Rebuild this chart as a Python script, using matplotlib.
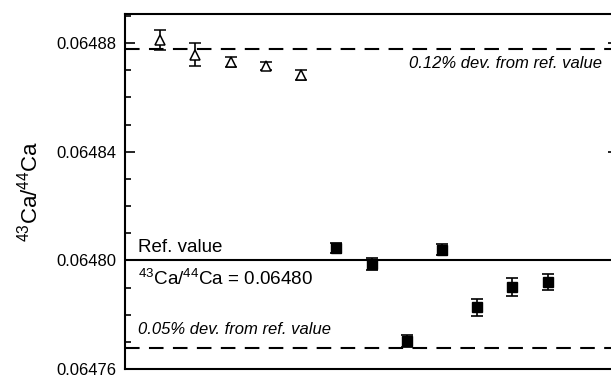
import numpy as np
import matplotlib.pyplot as plt

plt.rcParams['font.family'] = ['Liberation Sans', 'DejaVu Sans']
plt.rcParams['mathtext.fontset'] = 'custom'
plt.rcParams['mathtext.rm'] = 'Liberation Sans'
plt.rcParams['mathtext.it'] = 'Liberation Sans:italic'

# data
run_open = [1, 2, 3, 4, 5]
ratio_open = [0.0648813, 0.0648758, 0.0648731, 0.0648715, 0.0648684]
err_open = [0.0000037, 0.0000044, 0.0000018, 0.0000015, 0.0000018]

run_filled = [6, 7, 8, 9, 10, 11, 12]
ratio_filled = [0.0648047, 0.0647987, 0.0647704, 0.0648039, 0.0647827, 0.0647903, 0.0647920]
err_filled = [0.0000018, 0.0000022, 0.0000022, 0.0000020, 0.0000031, 0.0000033, 0.0000028]

ref_value = 0.06480
dev_high = 0.0012
dev_low = 0.0005
yticks = [0.06476, 0.06480, 0.06484, 0.06488]

fig = plt.figure(figsize=(6.11, 3.78), dpi=100)
ax = fig.add_axes([0.2046, 0.0238, 0.807, 0.939])

ax.axhline(ref_value, color='black', lw=1.5)
ax.axhline(ref_value * (1 + dev_high), color='black', lw=1.5, ls=(0, (7, 4.5)))
ax.axhline(ref_value * (1 - dev_low), color='black', lw=1.5, ls=(0, (7, 4.5)))

ax.errorbar(run_open, ratio_open, yerr=err_open, fmt='^', ms=7.5, mfc='white',
            mec='black', mew=1.1, ecolor='black', elinewidth=1.2, capsize=4,
            capthick=1.2, zorder=3)
ax.errorbar(run_filled, ratio_filled, yerr=err_filled, fmt='s', ms=7, mfc='black',
            mec='black', ecolor='black', elinewidth=1.2, capsize=4,
            capthick=1.2, zorder=3)

ax.text(0.37, ref_value + 0.0000015, 'Ref. value', fontsize=13.5, va='bottom')
ax.text(0.37, ref_value - 0.0000068, r'$^{43}$Ca/$^{44}$Ca = 0.06480', fontsize=13.6, va='center')
ax.text(13.55, 0.0648725, '0.12% dev. from ref. value', fontsize=12, style='italic',
        ha='right', va='center')
ax.text(0.37, 0.0647747, '0.05% dev. from ref. value', fontsize=12, style='italic',
        va='center')

ax.set_xlim(0, 14)
ax.set_ylim(0.06476, 0.0648907)
ax.set_yticks(yticks)
ax.set_yticklabels(['%.5f' % v for v in yticks])
ax.set_yticks(np.arange(0.06476, 0.06489, 0.00001), minor=True)
ax.set_xticks([])
ax.tick_params(axis='y', which='major', direction='in', length=7, width=1.2,
               labelsize=12, pad=6, right=True)
ax.tick_params(axis='y', which='minor', direction='in', length=4, width=1.2)
ax.set_ylabel(r'$^{43}$Ca/$^{44}$Ca', fontsize=16, labelpad=10)
for s in ax.spines.values():
    s.set_linewidth(1.5)

plt.savefig('out.png', dpi=100)
